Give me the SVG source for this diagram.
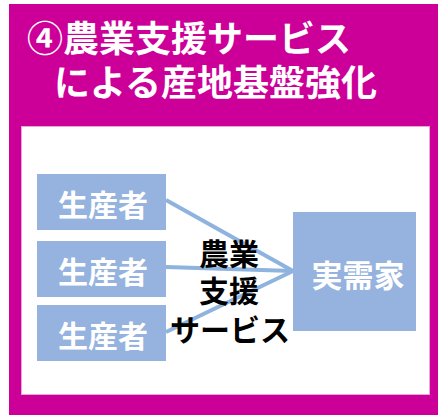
<svg xmlns="http://www.w3.org/2000/svg" width="442" height="418" viewBox="0 0 442 418">
<style>
.t{font-family:"Noto Sans CJK JP","Noto Sans",sans-serif;font-weight:bold;}
.title{fill:#fff;font-size:36px;}
.box{fill:#95B3DE;}
.lbl{fill:#fff;font-size:30px;text-anchor:middle;}
.mid{fill:#000;font-size:30px;text-anchor:middle;}
.con{stroke:#8DB3DE;stroke-width:4;fill:none;}
</style>
<rect x="0" y="0" width="442" height="418" fill="#fff"/>
<rect x="9" y="4" width="429" height="411" fill="#CC0099"/>
<rect x="21.5" y="126.5" width="408" height="268" fill="#fff" stroke="#E8A6D6" stroke-width="1"/>
<g id="title">
<text class="t title"><tspan x="27" y="52">④農業支援サービス</tspan><tspan x="54" y="96">による産地基盤強化</tspan></text>
</g>
<g id="connectors">
<line class="con" x1="166" y1="200" x2="293" y2="271"/>
<line class="con" x1="166" y1="267" x2="293" y2="271"/>
<line class="con" x1="166" y1="332" x2="293" y2="271"/>
</g>
<g id="producer1">
<rect class="box" x="37" y="174" width="129" height="56"/>
<text class="t lbl" x="103" y="216">生産者</text>
</g>
<g id="producer2">
<rect class="box" x="37" y="241" width="129" height="56"/>
<text class="t lbl" x="103" y="283">生産者</text>
</g>
<g id="producer3">
<rect class="box" x="37" y="305" width="129" height="56"/>
<text class="t lbl" x="103" y="347">生産者</text>
</g>
<g id="consumer">
<rect class="box" x="293" y="212" width="123" height="119"/>
<text class="t lbl" x="358" y="287" style="font-size:31px">実需家</text>
</g>
<g id="label">
<text class="t mid"><tspan x="229" y="265">農業</tspan><tspan x="229" y="302">支援</tspan><tspan x="230" y="341">サービス</tspan></text>
</g>
</svg>
